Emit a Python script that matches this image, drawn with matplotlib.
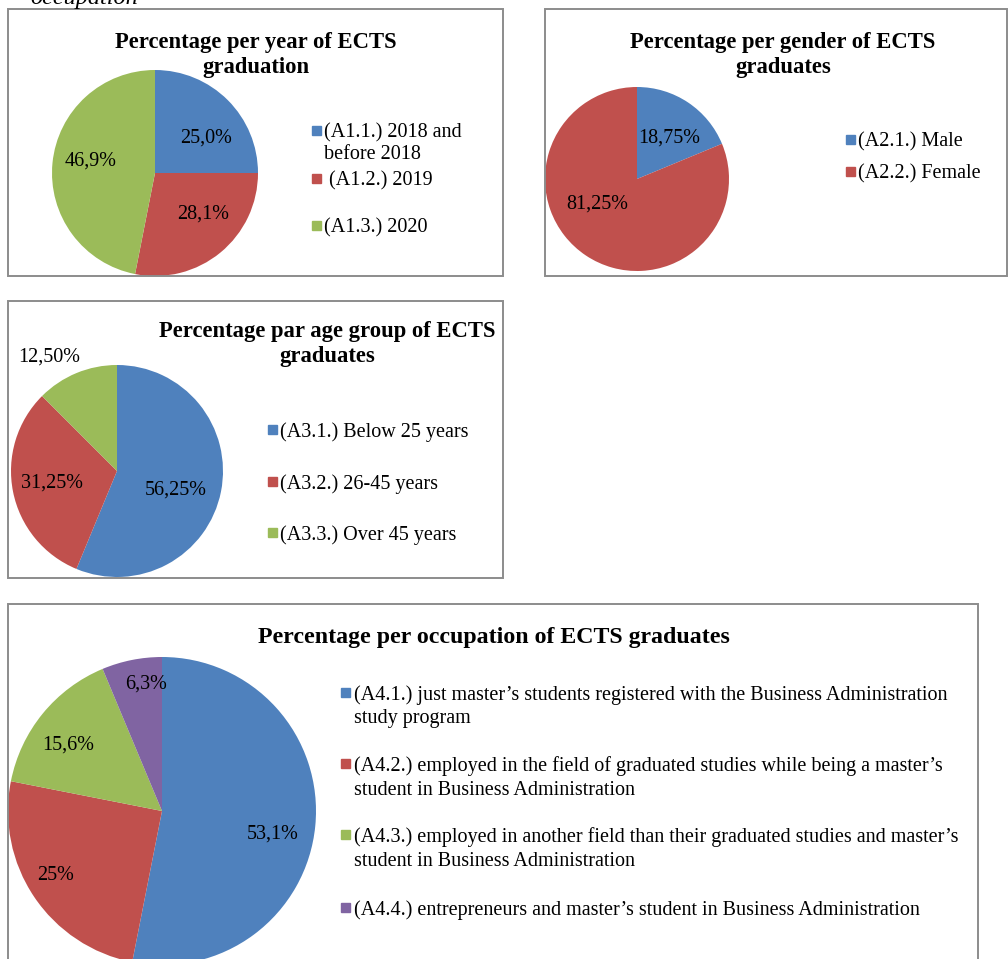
import numpy as np
import matplotlib.pyplot as plt
from matplotlib.patches import Rectangle

plt.rcParams['font.family'] = ['Liberation Serif', 'DejaVu Serif']

# ---- data ----
year_labels = ['(A1.1.) 2018 and\nbefore 2018', ' (A1.2.) 2019', '(A1.3.) 2020']
year_values = [25.0, 28.1, 46.9]
year_pct = ['25,0%', '28,1%', '46,9%']

gender_labels = ['(A2.1.) Male', '(A2.2.) Female']
gender_values = [18.75, 81.25]
gender_pct = ['18,75%', '81,25%']

age_labels = ['(A3.1.) Below 25 years', '(A3.2.) 26-45 years', '(A3.3.) Over 45 years']
age_values = [56.25, 31.25, 12.50]
age_pct = ['56,25%', '31,25%', '12,50%']

occ_labels = [
    '(A4.1.) just master\u2019s students registered with the Business Administration\nstudy program',
    '(A4.2.) employed in the field of graduated studies while being a master\u2019s\nstudent in Business Administration',
    '(A4.3.) employed in another field than their graduated studies and master\u2019s\nstudent in Business Administration',
    '(A4.4.) entrepreneurs and master\u2019s student in Business Administration',
]
occ_values = [53.1, 25.0, 15.6, 6.3]
occ_pct = ['53,1%', '25%', '15,6%', '6,3%']

colors = ['#4F81BD', '#C0504D', '#9BBB59', '#8064A2']

W, H = 1008, 959
fig = plt.figure(figsize=(W / 100, H / 100), dpi=100)


def fx(x):
    return x / W


def fy(y):
    return 1 - y / H


def box(x0, y0, x1, y1):
    fig.add_artist(Rectangle((fx(x0), fy(y1)), fx(x1 - x0), (y1 - y0) / H,
                             fill=False, edgecolor='#8c8c8c', linewidth=1.4,
                             transform=fig.transFigure))


def pie(cx, cy, r, values, n):
    ax = fig.add_axes([fx(cx - r), fy(cy + r), 2 * r / W, 2 * r / H])
    ax.pie(values, colors=colors[:n], startangle=90, counterclock=False,
           radius=1, wedgeprops=dict(linewidth=0))
    ax.set_xlim(-1, 1)
    ax.set_ylim(-1, 1)
    ax.axis('off')
    return ax


def legend(x, ys, labels, n, size=14.5, ls=1.2):
    for i in range(n):
        fig.add_artist(Rectangle((fx(x - 4.5), fy(ys[i] + 4.5)), 9 / W, 9 / H,
                                 color=colors[i], transform=fig.transFigure))
        fig.text(fx(x + 8.5), fy(ys[i] - 7.0), labels[i], fontsize=size,
                 va='top', ha='left', linespacing=ls)


def title(x, y, s, size=16.3):
    fig.text(fx(x), fy(y), s, fontsize=size, fontweight='bold',
             ha='center', va='center', linespacing=1.3)


# cut-off caption text above
fig.text(fx(30), fy(4), 'occupation', fontsize=17.5, style='italic', va='baseline')

# ---- chart 1 ----
box(8, 9, 503, 276)
title(256, 55, 'Percentage per year of ECTS\ngraduation')
pie(155, 173, 103, year_values, 3)
for s, (x, y) in zip(year_pct, [(206, 138), (203, 214), (91, 161)]):
    fig.text(fx(x), fy(y), s, fontsize=14.5, ha='center', va='center')
legend(316, [130, 178, 225], year_labels, 3)

# ---- chart 2 ----
box(545, 9, 1007, 276)
title(783, 55, 'Percentage per gender of ECTS\ngraduates')
pie(637, 179, 92, gender_values, 2)
for s, (x, y) in zip(gender_pct, [(669, 138), (597, 204)]):
    fig.text(fx(x), fy(y), s, fontsize=14.5, ha='center', va='center')
legend(850, [139, 171], gender_labels, 2)

# ---- chart 3 ----
box(8, 301, 503, 578)
title(327, 344, 'Percentage par age group of ECTS\ngraduates')
pie(117, 471, 106, age_values, 3)
for s, (x, y) in zip(age_pct, [(176, 490), (52, 483), (49, 357)]):
    fig.text(fx(x), fy(y), s, fontsize=14.5, ha='center', va='center')
legend(272, [429, 481, 532], age_labels, 3)

# ---- chart 4 ----
box(8, 604, 978, 962)
title(494, 638, 'Percentage per occupation of ECTS graduates', size=17.2)
pie(162, 811, 154, occ_values, 4)
for s, (x, y) in zip(occ_pct, [(273, 834), (56, 876), (68, 745), (146, 684)]):
    fig.text(fx(x), fy(y), s, fontsize=14.5, ha='center', va='center')
legend(345, [692, 763, 834, 907], occ_labels, 4, ls=1.33)

fig.savefig('out.png', dpi=100)
